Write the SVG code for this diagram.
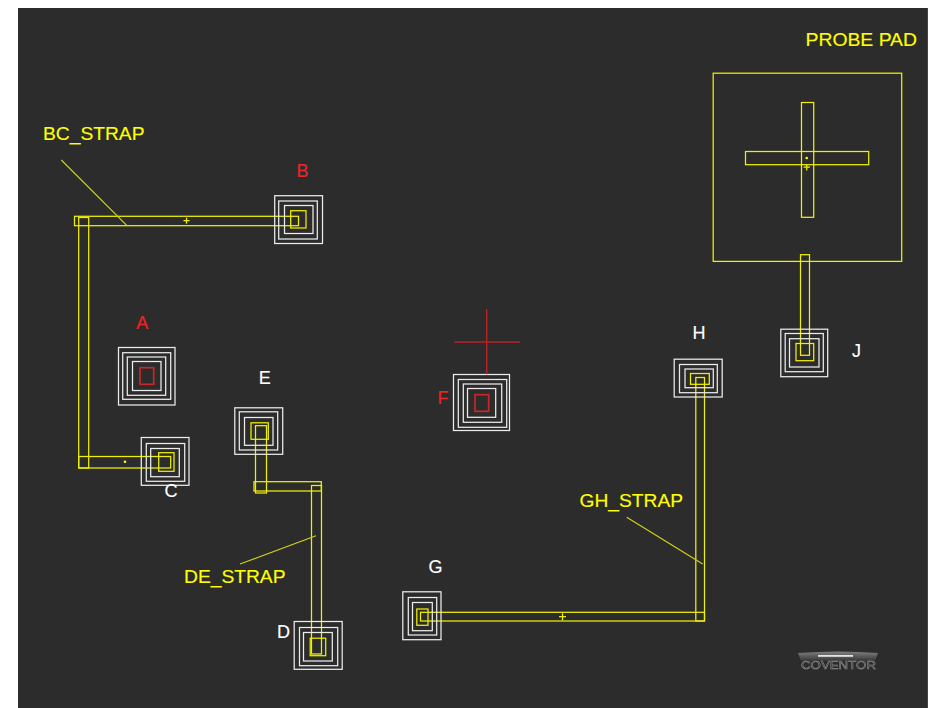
<svg xmlns="http://www.w3.org/2000/svg" width="932" height="708" viewBox="0 0 932 708">
<style>
.w{fill:none;stroke:#ececec;stroke-width:1.25}
.y{fill:none;stroke:#f0f000;stroke-width:1.25}
.r{fill:none;stroke:#c62828;stroke-width:1.7}
.l{fill:none;stroke:#d0d018;stroke-width:1.2}
.rl{fill:none;stroke:#b82222;stroke-width:1.5}
text{font-family:"Liberation Sans",Arial,sans-serif;font-size:18px;stroke-width:0.15}
.ty{fill:#ff0;stroke:#ff0}
.tw{fill:#fff;stroke:#fff}
.tr{fill:#f02424;stroke:#f02424}
</style>
<defs>
<linearGradient id="band" x1="0" y1="0" x2="0" y2="1"><stop offset="0" stop-color="#808080"/><stop offset="1" stop-color="#363636"/></linearGradient>
<filter id="soft" x="-10%" y="-30%" width="120%" height="160%"><feGaussianBlur stdDeviation="0.7"/></filter>
</defs>
<rect x="0" y="0" width="932" height="708" fill="#fff"/>
<rect x="18" y="8" width="910" height="700" fill="#444"/>
<rect x="18" y="8" width="909" height="700" fill="#2c2c2c"/>

<g id="connectors">
<rect class="y" x="74.5" y="216.3" width="224" height="9.4"/>
<rect class="y" x="78.7" y="217.5" width="10" height="250.5"/>
<rect class="y" x="78.7" y="456.5" width="92" height="11.5"/>
<path class="y" d="M183.5 220.7h6M186.5 217.7v6"/>
<circle cx="125" cy="461.7" r="1.3" fill="#ff0"/>
<line class="l" x1="61.3" y1="160" x2="126.7" y2="225.3"/>
<rect class="y" x="255.5" y="425.7" width="11" height="67.3"/>
<rect class="y" x="254" y="481.7" width="67.3" height="9.3"/>
<rect class="y" x="311.5" y="485.5" width="10" height="168.5"/>
<line class="l" x1="240" y1="564" x2="316" y2="535.7"/>
<rect class="y" x="420.5" y="612.3" width="284" height="8.7"/>
<rect class="y" x="695.8" y="377.5" width="8.7" height="243.5"/>
<path class="y" d="M559 616.7h7M562.5 613.3v7"/>
<line class="l" x1="626.7" y1="517.3" x2="702.7" y2="564"/>
<rect class="y" x="800.5" y="254.7" width="9" height="100.6"/>
</g>

<g id="node-A">
<rect class="w" x="118.5" y="347.5" width="56.5" height="57.5"/>
<rect class="w" x="122.7" y="352.7" width="48" height="46.6"/>
<rect class="w" x="127.3" y="357" width="38.4" height="38.3"/>
<rect class="w" x="132.5" y="361.5" width="28.5" height="29"/>
<rect class="r" x="140" y="367.7" width="13.7" height="16.6"/>
<text class="tr" x="136.3" y="328.7">A</text>
</g>
<g id="node-B">
<rect class="w" x="274.7" y="195.7" width="47.8" height="47.8"/>
<rect class="w" x="278.7" y="201" width="38.6" height="38"/>
<rect class="w" x="284.5" y="205.5" width="28.5" height="28"/>
<rect class="y" x="290.7" y="210.7" width="15.3" height="17.3"/>
<text class="tr" x="296.5" y="177">B</text>
</g>
<g id="node-C">
<rect class="w" x="141.3" y="437.5" width="47.7" height="47.8"/>
<rect class="w" x="146.3" y="443.5" width="38.4" height="37.8"/>
<rect class="w" x="150.7" y="448.5" width="28.6" height="28.2"/>
<rect class="y" x="158.7" y="452.7" width="15.3" height="18.6"/>
<text class="tw" x="164.5" y="497">C</text>
</g>
<g id="node-D">
<rect class="w" x="294.2" y="621.5" width="48" height="47.8"/>
<rect class="w" x="299.5" y="627.5" width="38.2" height="38.2"/>
<rect class="w" x="303.5" y="632.5" width="28.8" height="28.5"/>
<rect class="y" x="310.2" y="638.2" width="15.5" height="17.5"/>
<text class="tw" x="277" y="638.3">D</text>
</g>
<g id="node-E">
<rect class="w" x="234.8" y="407.8" width="47.9" height="46.5"/>
<rect class="w" x="239.3" y="411.8" width="38.4" height="38.2"/>
<rect class="w" x="244.5" y="417.5" width="28.5" height="27.8"/>
<rect class="y" x="251" y="422.8" width="17.3" height="16.5"/>
<text class="tw" x="258.8" y="384.3">E</text>
</g>
<g id="node-F">
<rect class="w" x="453.5" y="374.5" width="56" height="56"/>
<rect class="w" x="458.3" y="379.5" width="48.4" height="47.8"/>
<rect class="w" x="463.3" y="384" width="38.4" height="38.3"/>
<rect class="w" x="467.5" y="388.5" width="28.2" height="28.8"/>
<rect class="r" x="475" y="394.7" width="13.7" height="16.6"/>
<path class="rl" d="M486.7 309.3V374.3M454.3 342H520"/>
<text class="tr" x="437.5" y="404.3">F</text>
</g>
<g id="node-G">
<rect class="w" x="402.8" y="591.8" width="38.2" height="47.9"/>
<rect class="w" x="408.3" y="597.5" width="28.4" height="37.5"/>
<rect class="w" x="412.5" y="602.5" width="19.8" height="28.2"/>
<rect class="y" x="416.8" y="609" width="11.2" height="16.3"/>
<text class="tw" x="428.5" y="573">G</text>
</g>
<g id="node-H">
<rect class="w" x="674.2" y="359.2" width="48" height="37.8"/>
<rect class="w" x="679.5" y="364.5" width="37.8" height="28.2"/>
<rect class="w" x="685" y="369" width="28.3" height="18.7"/>
<rect class="y" x="690.5" y="373.5" width="18.8" height="10.8"/>
<text class="tw" x="692.5" y="339">H</text>
</g>
<g id="node-J">
<rect class="w" x="780.8" y="329.2" width="46.9" height="47.5"/>
<rect class="w" x="785.2" y="333.5" width="38.1" height="38.2"/>
<rect class="w" x="789.5" y="338.7" width="29.5" height="28.3"/>
<rect class="y" x="796" y="343.5" width="17.7" height="17.2"/>
<text class="tw" x="852" y="356.7">J</text>
</g>
<g id="node-probe-pad">
<rect class="y" x="713.2" y="73.2" width="188.5" height="188.2"/>
<rect class="y" x="801.5" y="102.5" width="12.2" height="114.8"/>
<rect class="y" x="745.5" y="151.5" width="123.2" height="13.2"/>
<circle cx="806.7" cy="158" r="1.3" fill="#ff0"/>
<path class="y" d="M803.5 167h6.5M806.7 164v6.5"/>
<text class="ty" x="805.5" y="46" textLength="111.5" lengthAdjust="spacingAndGlyphs">PROBE PAD</text>
</g>
<g id="labels">
<text class="ty" x="43" y="140" textLength="101.5" lengthAdjust="spacingAndGlyphs">BC_STRAP</text>
<text class="ty" x="184" y="582.5" textLength="101.5" lengthAdjust="spacingAndGlyphs">DE_STRAP</text>
<text class="ty" x="579.5" y="507.3" textLength="103.5" lengthAdjust="spacingAndGlyphs">GH_STRAP</text>
</g>
<g id="logo">
<path d="M798 653Q838 650 878 653L875 661H801Z" fill="url(#band)" filter="url(#soft)"/>
<rect x="818" y="655" width="35" height="1.8" fill="#e4e4e4" filter="url(#soft)"/>
<text x="801" y="669" textLength="75" lengthAdjust="spacingAndGlyphs" style="font-size:11px;stroke-width:0.5" fill="none" stroke="#909090" filter="url(#soft)">COVENTOR</text>
</g>
</svg>
